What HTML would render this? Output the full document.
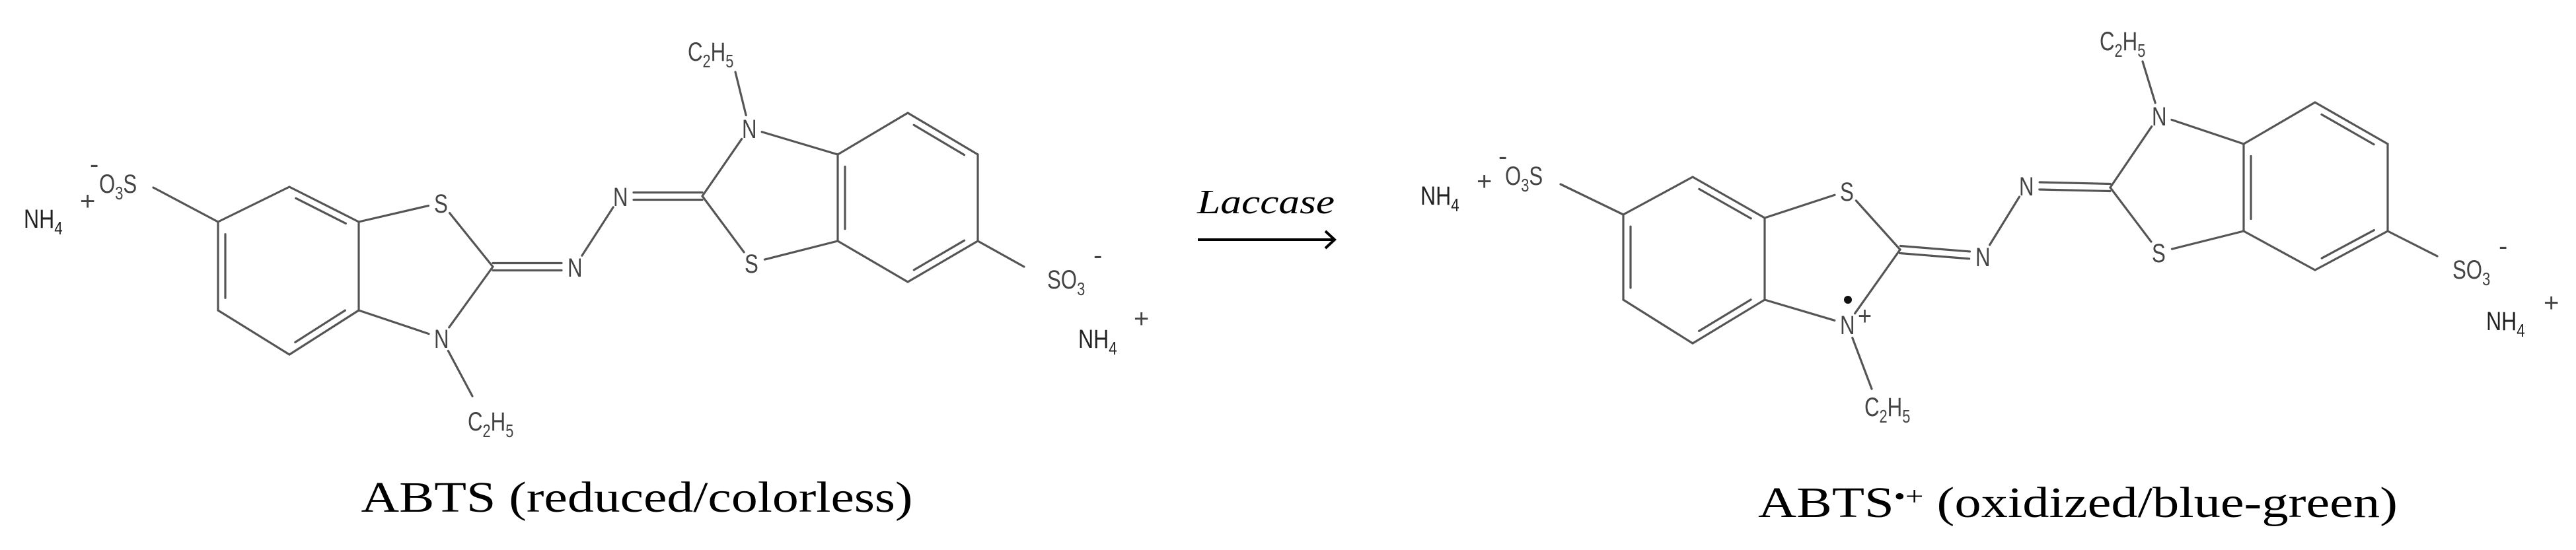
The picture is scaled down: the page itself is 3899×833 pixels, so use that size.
<!DOCTYPE html>
<html><head><meta charset="utf-8">
<style>
html,body{margin:0;padding:0;background:#fff;}
svg{display:block;}
.lb{font-family:"Liberation Sans",sans-serif;font-size:40px;fill:#444;}
.ion{font-family:"Liberation Sans",sans-serif;font-size:40px;fill:#222;}
.cap{font-family:"Liberation Serif",serif;font-size:66px;fill:#000;}
</style></head>
<body>
<svg id="s" width="3899" height="833" viewBox="0 0 3899 833" xmlns="http://www.w3.org/2000/svg">
<g id="bonds" stroke="#555" stroke-width="3.2" fill="none" stroke-linecap="round"></g>
<g id="labels"></g>
<text class="cap" x="964" y="775" text-anchor="middle" textLength="835" lengthAdjust="spacingAndGlyphs">ABTS (reduced/colorless)</text>
<text class="cap" x="2661" y="783" textLength="968" lengthAdjust="spacingAndGlyphs">ABTS<tspan font-size="40" dy="-18">•+</tspan><tspan dy="18"> (oxidized/blue-green)</tspan></text>
<text x="1812" y="323" font-family="Liberation Serif,serif" font-style="italic" font-size="52" textLength="208" lengthAdjust="spacingAndGlyphs">Laccase</text>
<line x1="1813" y1="363" x2="2018" y2="363" stroke="#000" stroke-width="4"/>
<polyline points="2006,350 2020,363 2006,376" stroke="#000" stroke-width="4" fill="none"/>
</svg>
<script>
var NS="http://www.w3.org/2000/svg";
var B=document.getElementById('bonds'),L=document.getElementById('labels');
function ln(a,b){var l=document.createElementNS(NS,'line');l.setAttribute('x1',a[0]);l.setAttribute('y1',a[1]);l.setAttribute('x2',b[0]);l.setAttribute('y2',b[1]);B.appendChild(l);}
function sh(a,b,ra,rb){var dx=b[0]-a[0],dy=b[1]-a[1],d=Math.hypot(dx,dy),ux=dx/d,uy=dy/d;return [[a[0]+ux*ra,a[1]+uy*ra],[b[0]-ux*rb,b[1]-uy*rb]];}
function bond(a,b,ra,rb){var p=sh(a,b,ra||0,rb||0);ln(p[0],p[1]);}
function inner(a,b,c){ // inner double line towards center c
 var dx=b[0]-a[0],dy=b[1]-a[1],d=Math.hypot(dx,dy);var nx=-dy/d,ny=dx/d;
 var mx=(a[0]+b[0])/2,my=(a[1]+b[1])/2;if((c[0]-mx)*nx+(c[1]-my)*ny<0){nx=-nx;ny=-ny;}
 var o=11,t=0.14;ln([a[0]+dx*t+nx*o,a[1]+dy*t+ny*o],[b[0]-dx*t+nx*o,b[1]-dy*t+ny*o]);}
function dbl(a,b,ra,rb){var p=sh(a,b,ra||0,rb||0);var dx=p[1][0]-p[0][0],dy=p[1][1]-p[0][1],d=Math.hypot(dx,dy),nx=-dy/d*5.5,ny=dx/d*5.5;
 ln([p[0][0]+nx,p[0][1]+ny],[p[1][0]+nx,p[1][1]+ny]);ln([p[0][0]-nx,p[0][1]-ny],[p[1][0]-nx,p[1][1]-ny]);}
function txt(x,y,html,cls,sx){var t=document.createElementNS(NS,'text');t.setAttribute('class',cls||'lb');
 t.setAttribute('transform','translate('+x+','+y+') scale('+(sx||0.78)+',1)');t.innerHTML=html;L.appendChild(t);}
function ring(P){var c=[0,0];P.forEach(function(p){c[0]+=p[0]/6;c[1]+=p[1]/6;});return c;}
function mol(M){
 var R1=M.r1,R2=M.r2,c1=ring(R1),c2=ring(R2);
 for(var i=0;i<6;i++)bond(R1[i],R1[(i+1)%6]);
 for(var i=0;i<6;i++)bond(R2[i],R2[(i+1)%6]);
 // R order: top, UR, LR, bottom, LL, UL
 inner(R1[0],R1[1],c1);inner(R1[2],R1[3],c1);inner(R1[4],R1[5],c1);
 inner(R2[0],R2[1],c2);inner(R2[2],R2[3],c2);inner(R2[4],R2[5],c2);
 var r=20;
 bond(R1[1],M.S1,0,r);bond(M.S1,M.C2,r,0);bond(M.C2,M.N3,0,r);bond(M.N3,R1[2],r,0);
 dbl(M.C2,M.Na,0,r);bond(M.Na,M.Nb,r,r);dbl(M.Nb,M.C2b,r,0);
 bond(M.C2b,M.Sb,0,r);bond(M.Sb,R2[4],r,0);bond(M.C2b,M.Nb2,0,r);bond(M.Nb2,R2[5],r,0);
 bond(M.Nb2,M.Et2,r,0);bond(M.N3,M.Et1,r+2,0);
 bond(R1[5],M.SL,0,0);bond(R2[2],M.SR,0,0);
 [[M.S1,'S'],[M.N3,'N'],[M.Na,'N'],[M.Nb,'N'],[M.Sb,'S'],[M.Nb2,'N']].forEach(function(a){txt(a[0][0]-11,a[0][1]+15,a[1]);});
}
var dy=-15;
// left molecule
mol({r1:[[438,283],[543,336],[543,470],[438,537],[330,470],[330,336]],
 r2:[[1374,171],[1480,234],[1480,365],[1374,427],[1268,365],[1268,234]],
 S1:[668,307],C2:[746,404],N3:[668,512],Na:[870,404],Nb:[939,297],C2b:[1063,297],Sb:[1138,398],Nb2:[1134,194],
 Et2:[1113,109],Et1:[715,600],SL:[232,284],SR:[1550,404]});
// right molecule
mol({r1:[[2562,268],[2671,330],[2671,454],[2562,520],[2457,454],[2457,325]],
 r2:[[3504,155],[3614,218],[3614,350],[3504,409],[3396,350],[3396,218]],
 S1:[2796,289],C2:[2876,378],N3:[2796,491],Na:[3001,388],Nb:[3067,281],C2b:[3194,284],Sb:[3268,382],Nb2:[3268,175],
 Et2:[3243,93],Et1:[2833,589],SL:[2362,279],SR:[3689,388]});
// ethyl labels
var c2h5='C<tspan font-size="28" dy="10">2</tspan><tspan dy="-10">H</tspan><tspan font-size="28" dy="10">5</tspan>';
txt(1041,92,c2h5);txt(708,652,c2h5);txt(3178,76,c2h5);txt(2822,630,c2h5);
var so3='SO<tspan font-size="28" dy="10">3</tspan>';
var o3s='O<tspan font-size="28" dy="10">3</tspan><tspan dy="-10">S</tspan>';
var nh4='NH<tspan font-size="28" dy="10">4</tspan>';
// left ions
txt(36,345,nh4,'ion',0.8);txt(121,318,'+','lb',1);txt(150,292,o3s);txt(136,262,'-','lb',1);
txt(1585,437,so3);txt(1655,400,'-','lb',1);txt(1632,527,nh4,'ion',0.8);txt(1716,496,'+','lb',1);
// right ions
txt(2150,310,nh4,'ion',0.8);txt(2235,288,'+','lb',1);txt(2278,280,o3s);txt(2268,250,'-','lb',1);
txt(3712,422,so3);txt(3782,386,'-','lb',1);txt(3763,500,nh4,'ion',0.8);txt(3850,472,'+','lb',1);
// radical dot and plus on N
var c=document.createElementNS(NS,'circle');c.setAttribute('cx',2797);c.setAttribute('cy',454);c.setAttribute('r',6);c.setAttribute('fill','#111');L.appendChild(c);
txt(2812,492,'+','lb',0.9);
</script>
</body></html>
